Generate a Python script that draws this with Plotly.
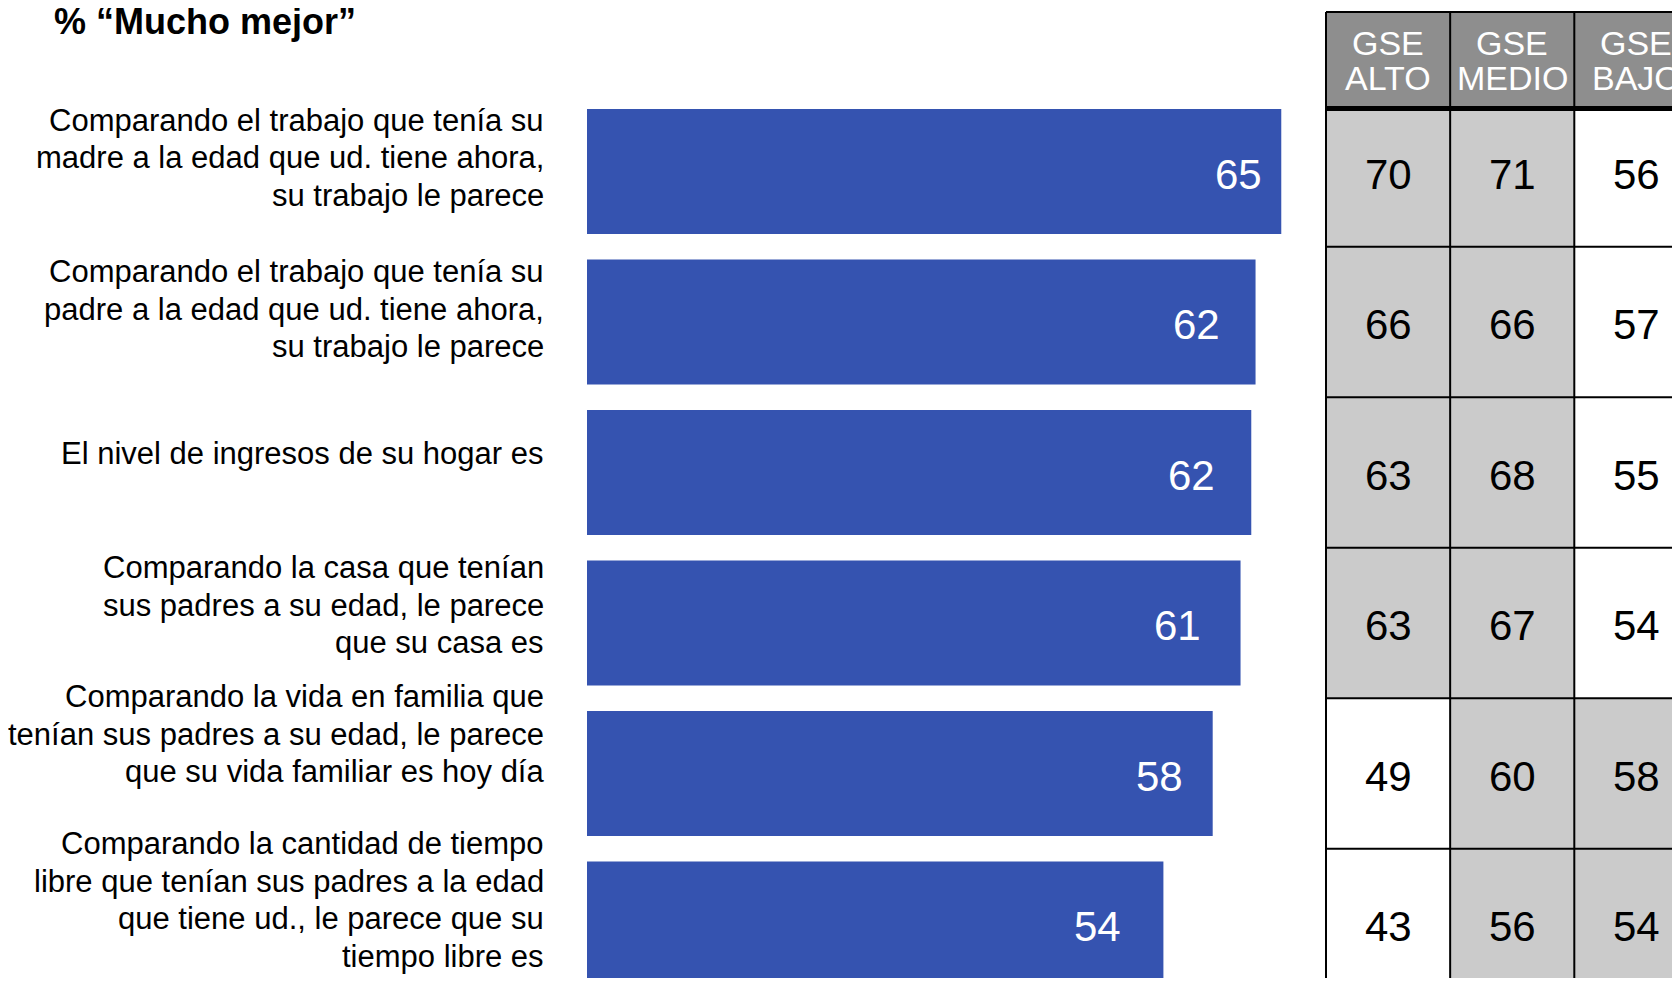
import plotly.graph_objects as go

# ---------------- data ----------------
title_text = "% “Mucho mejor”"
categories = [
    "Comparando el trabajo que tenía su<br>madre a la edad que ud. tiene ahora,<br>su trabajo le parece",
    "Comparando el trabajo que tenía su<br>padre a la edad que ud. tiene ahora,<br>su trabajo le parece",
    "El nivel de ingresos de su hogar es",
    "Comparando la casa que tenían<br>sus padres a su edad, le parece<br>que su casa es",
    "Comparando la vida en familia que<br>tenían sus padres a su edad, le parece<br>que su vida familiar es hoy día",
    "Comparando la cantidad de tiempo<br>libre que tenían sus padres a la edad<br>que tiene ud., le parece que su<br>tiempo libre es",
]
# bar lengths (labels show them rounded)
total = [64.8, 62.4, 62.0, 61.0, 58.4, 53.8]
gse_headers = ["GSE<br>ALTO", "GSE<br>MEDIO", "GSE<br>BAJO"]
gse_alto = [70, 66, 63, 63, 49, 43]
gse_medio = [71, 66, 68, 67, 60, 56]
gse_bajo = [56, 57, 55, 54, 58, 54]

# ---------------- style ----------------
W, H = 1672, 970          # page body adds an 8px margin
FONT = "Arial, Liberation Sans, sans-serif"
BAR_COLOR = "#3553b0"
HEADER_FILL = "#8e8e8e"
CELL_GRAY = "#cbcbcb"
LABEL_SIZE = 31
LINE_STEP = 37.5
NUM_SIZE = 42
# fine offsets (pixels) to mimic the slide's manual placement
label_up = [14, 12.5, 19, 17.6, 39, 24]
value_pad = [17, 34, 34, 38, 28, 40]

PX_UNIT_X = 10.714
X0_PX = 579
TABLE_L = 1318
COL_W = 124.15
PX_UNIT_Y = 150.49
ROW0_PX = 163.5
Y_TOP = -ROW0_PX / PX_UNIT_Y
Y_BOT = Y_TOP + H / PX_UNIT_Y
header_top = (4 - ROW0_PX) / PX_UNIT_Y
header_bot = (100.5 - ROW0_PX) / PX_UNIT_Y
table_bot = (977 - ROW0_PX) / PX_UNIT_Y

n = len(categories)
idx = list(range(n))
cols = [gse_alto, gse_medio, gse_bajo]
shown = [int(round(t)) for t in total]

fig = go.Figure()
fig.add_trace(go.Bar(
    x=total, y=idx, orientation="h", width=0.83,
    marker=dict(color=BAR_COLOR, line=dict(width=0)),
    hoverinfo="skip", showlegend=False,
))
# invisible trace to activate the table subplot
fig.add_trace(go.Scatter(x=[0], y=[0], xaxis="x2", yaxis="y", mode="markers",
                         marker=dict(opacity=0), hoverinfo="skip", showlegend=False))

annotations = []
shapes = []

# value labels inside bars
for i, v in enumerate(total):
    annotations.append(dict(
        x=v, y=i, xref="x", yref="y", text=str(shown[i]), showarrow=False,
        xanchor="right", yanchor="middle", xshift=-value_pad[i], yshift=-3,
        font=dict(family=FONT, size=NUM_SIZE, color="white"),
    ))

# category labels (one annotation per line for slide-like spacing)
for i, lab in enumerate(categories):
    lines = lab.split("<br>")
    m = len(lines)
    for j, line in enumerate(lines):
        off = (j - (m - 1) / 2) * LINE_STEP
        annotations.append(dict(
            x=0, y=i, xref="x", yref="y", text=line, showarrow=False,
            xanchor="right", yanchor="middle", xshift=-41,
            yshift=label_up[i] - off,
            font=dict(family=FONT, size=LABEL_SIZE, color="black"),
        ))

# title
annotations.append(dict(
    x=44 / W, y=(H - 14) / H, xref="paper", yref="paper", text="<b>" + title_text + "</b>",
    showarrow=False, xanchor="left", yanchor="middle",
    font=dict(family=FONT, size=36, color="black"),
))

# table header
for c, hdr in enumerate(gse_headers):
    shapes.append(dict(type="rect", xref="x2", yref="y", x0=c - 0.5, x1=c + 0.5,
                       y0=header_top, y1=header_bot, fillcolor=HEADER_FILL,
                       line=dict(width=0), layer="below"))
    parts = hdr.split("<br>")
    hc = (header_top + header_bot) / 2
    for j, p in enumerate(parts):
        annotations.append(dict(
            x=c, y=hc, xref="x2", yref="y", text=p, showarrow=False,
            xanchor="center", yanchor="middle", yshift=17.5 - j * 35,
            font=dict(family=FONT, size=34, color="white"),
        ))

# table cells
for c, col in enumerate(cols):
    for r, v in enumerate(col):
        fill = CELL_GRAY if v >= shown[r] else "white"
        y0 = max(r - 0.5, header_bot)
        y1 = min(r + 0.5, table_bot)
        shapes.append(dict(type="rect", xref="x2", yref="y", x0=c - 0.5, x1=c + 0.5,
                           y0=y0, y1=y1, fillcolor=fill, line=dict(width=0), layer="below"))
        annotations.append(dict(
            x=c, y=r, xref="x2", yref="y", text=str(v), showarrow=False,
            xanchor="center", yanchor="middle", yshift=-3,
            font=dict(family=FONT, size=NUM_SIZE, color="black"),
        ))

# table grid lines
for k in range(len(cols) + 1):
    shapes.append(dict(type="line", xref="x2", yref="y", x0=k - 0.5, x1=k - 0.5,
                       y0=header_top, y1=table_bot, line=dict(color="black", width=2)))
hlines = [header_top] + [r + 0.5 for r in range(n - 1)] + [table_bot]
for yv in hlines:
    shapes.append(dict(type="line", xref="x2", yref="y", x0=-0.5, x1=len(cols) - 0.5,
                       y0=yv, y1=yv, line=dict(color="black", width=2)))
shapes.append(dict(type="line", xref="x2", yref="y", x0=-0.5, x1=len(cols) - 0.5,
                   y0=header_bot, y1=header_bot, line=dict(color="black", width=5)))

pad_l = 3 / COL_W
fig.update_layout(
    width=W, height=H,
    margin=dict(l=0, r=0, t=0, b=0),
    paper_bgcolor="white", plot_bgcolor="white",
    showlegend=False,
    xaxis=dict(domain=[X0_PX / W, (TABLE_L - 3) / W], range=[0, (TABLE_L - 3 - X0_PX) / PX_UNIT_X],
               visible=False, fixedrange=True),
    xaxis2=dict(domain=[(TABLE_L - 3) / W, 1.0],
                range=[-0.5 - pad_l, -0.5 + (W - TABLE_L) / COL_W],
                anchor="y", visible=False, fixedrange=True),
    yaxis=dict(range=[Y_BOT, Y_TOP], visible=False, fixedrange=True),
    annotations=annotations,
    shapes=shapes,
)

fig.write_html("out.html")
